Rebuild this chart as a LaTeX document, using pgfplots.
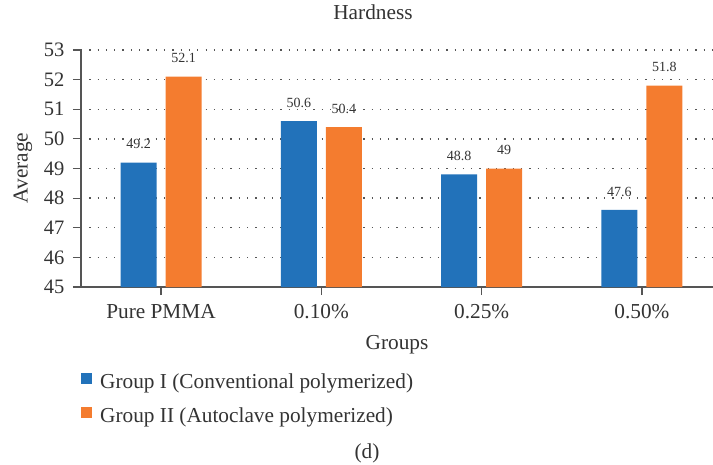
\documentclass[border=0pt]{standalone}
\usepackage{fontspec}
\setmainfont{Liberation Serif}
\usepackage{pgfplots}
\pgfplotsset{compat=1.18}
\definecolor{cblue}{HTML}{2272BA}
\definecolor{corange}{HTML}{F47C2F}
\definecolor{txt}{HTML}{333333}
\definecolor{axc}{HTML}{555555}
\begin{document}
\begin{tikzpicture}[font=\fontsize{21.3}{25}\selectfont]
\begin{axis}[
  name=ax,
  scale only axis, width=632pt, height=237pt,
  xmin=-0.499, xmax=3.443, ymin=45, ymax=53,
  ytick={45,46,...,53},
  xtick={0,1,2,3},
  xticklabels={Pure PMMA, 0.10\%, 0.25\%, 0.50\%},
  /pgf/number format/assume math mode=true,
  axis x line=bottom, axis y line=left,
  axis line style={-, axc, line width=1.2pt},
  tick style={axc, line width=1.2pt},
  tick align=outside, major tick length=8pt,
  ymajorgrids,
  major grid style={axc, line width=1.3pt, dash pattern=on 1.3pt off 7pt},
  ticklabel style={text=txt, font=\fontsize{20.5}{24}\selectfont},
  xticklabel style={yshift=-6pt, font=\fontsize{21.3}{25}\selectfont},
  yticklabel style={xshift=-5pt},
  title={Hardness},
  title style={at={(axis description cs:0.462,1.135)}, anchor=center, text=txt},
  xlabel={Groups},
  xlabel style={at={(axis description cs:0.5,-0.245)}, anchor=center, text=txt},
  ylabel={Average},
  ylabel style={at={(axis description cs:-0.092,0.502)}, anchor=center, text=txt},
  legend style={at={(axis description cs:0,-0.362)}, anchor=north west, draw=none, fill=none,
    inner sep=0pt, row sep=17pt, text=txt, font=\fontsize{21.3}{25}\selectfont,
    nodes={inner sep=0pt},
    /tikz/every odd column/.append style={column sep=8pt}},
  legend cell align=left,
  legend image code/.code={\fill[#1] (0pt,-2pt) rectangle (11pt,9pt);},
  nodes near coords,
  every node near coord/.append style={anchor=center, yshift=18.5pt, text=txt, font=\fontsize{14}{16}\selectfont},
]
\coordinate (O) at (rel axis cs:0,0);
\addplot[ybar, bar width=36pt, bar shift=-22.5pt, fill=cblue, draw=none,
  every node near coord/.append style={xshift=-22.5pt}]
  coordinates {(0,49.2) (1,50.6) (2,48.8) (3,47.6)};
\addlegendentry{Group I (Conventional polymerized)}
\addplot[ybar, bar width=36pt, bar shift=22.5pt, fill=corange, draw=none,
  every node near coord/.append style={xshift=22.5pt}]
  coordinates {(0,52.1) (1,50.4) (2,49) (3,51.8)};
\addlegendentry{Group II (Autoclave polymerized)}
\end{axis}
\path (O) ++(286pt,-166pt) node[text=txt] {(d)};
\pgfresetboundingbox
\path (O) ++(-81pt,-177pt) rectangle ++(713pt,464pt);
\end{tikzpicture}
\end{document}
